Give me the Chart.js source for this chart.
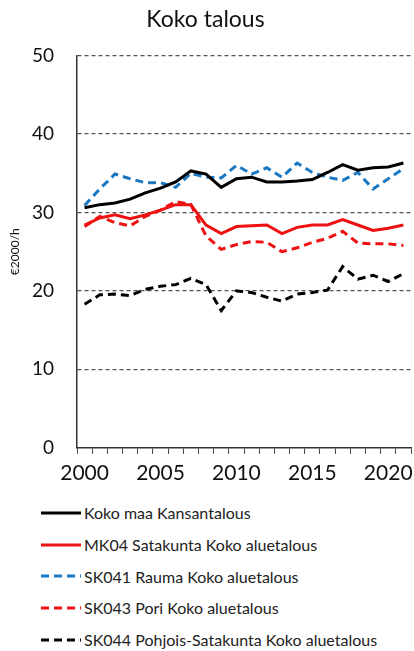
<!DOCTYPE html>
<html lang="fi">
  <head>
    <meta charset="UTF-8" />
    <title>Koko talous</title>
    <script src="https://cdn.jsdelivr.net/npm/chart.js@4.4.0/dist/chart.umd.min.js"></script>
    <style>
      body { margin: 0; background: #fff; font-family: Lato, sans-serif; }
      .wrap { position: relative; width: 414px; height: 494px; }
      #legend { position: absolute; left: 0; top: 497px; width: 414px; }
      .row { display: flex; align-items: center; height: 31.7px; color: #222; font-size: 16px; }
      .row svg { margin-left: 41px; margin-right: 3px; }
    </style>
  </head>
  <body>
    <div class="wrap"><canvas id="chart"></canvas></div>
    <div id="legend"></div>
    <script>
      // Years 2000-2021
      const years = [];
      for (let y = 2000; y <= 2021; y++) years.push(String(y));

      const kokoMaa = [30.6, 31.0, 31.2, 31.7, 32.5, 33.1, 33.9, 35.3, 34.9, 33.2, 34.3, 34.5, 33.9, 33.9, 34.0, 34.2, 35.1, 36.1, 35.4, 35.7, 35.8, 36.3];
      const satakunta = [28.4, 29.3, 29.7, 29.2, 29.7, 30.3, 31.0, 31.0, 28.4, 27.3, 28.2, 28.3, 28.4, 27.3, 28.1, 28.4, 28.4, 29.1, 28.4, 27.7, 28.0, 28.4];
      const rauma = [30.9, 33.0, 34.9, 34.3, 33.8, 33.8, 33.2, 35.0, 34.5, 34.4, 36.0, 34.9, 35.7, 34.5, 36.3, 35.1, 34.5, 34.1, 35.1, 33.0, 34.3, 35.6];
      const pori = [28.2, 29.5, 28.7, 28.3, 29.5, 30.3, 31.4, 31.0, 27.0, 25.3, 25.9, 26.3, 26.2, 25.0, 25.5, 26.2, 26.7, 27.6, 26.1, 26.0, 26.0, 25.8];
      const pohjoisSatakunta = [18.3, 19.5, 19.6, 19.4, 20.2, 20.6, 20.8, 21.6, 20.8, 17.5, 20.0, 19.8, 19.2, 18.7, 19.6, 19.8, 20.1, 23.1, 21.5, 22.0, 21.2, 22.2];

      const seriesNames = [
        "Koko maa Kansantalous",
        "MK04 Satakunta Koko aluetalous",
        "SK041 Rauma Koko aluetalous",
        "SK043 Pori Koko aluetalous",
        "SK044 Pohjois-Satakunta Koko aluetalous",
      ];
      const seriesData = [kokoMaa, satakunta, rauma, pori, pohjoisSatakunta];
      const seriesColors = ["#000000", "#ee1111", "#1a78c2", "#ee1111", "#000000"];
      const seriesDashed = [false, false, true, true, true];

      const datasets = seriesNames.map((name, i) => ({
        label: name,
        data: seriesData[i],
        borderColor: seriesColors[i],
        backgroundColor: seriesColors[i],
        borderWidth: 3,
        borderDash: seriesDashed[i] ? [8, 5] : [],
        pointRadius: 0,
        tension: 0,
        fill: false,
      }));

      new Chart(document.getElementById("chart"), {
        type: "line",
        data: { labels: years, datasets: datasets },
        options: {
          responsive: true,
          maintainAspectRatio: false,
          animation: false,
          layout: { padding: { left: 0, right: 3, top: 0, bottom: 1 } },
          plugins: {
            legend: { display: false },
            tooltip: { enabled: false },
            title: {
              display: true,
              text: "Koko talous",
              color: "#111",
              font: { family: "Lato", size: 23, weight: "normal" },
              padding: { top: 6, bottom: 22 },
            },
          },
          scales: {
            x: {
              type: "category",
              offset: true,
              grid: {
                display: true,
                drawOnChartArea: false,
                drawTicks: true,
                tickLength: 6,
                color: "#444",
                lineWidth: 1,
                offset: true,
              },
              border: { display: true, color: "#333", width: 1.5 },
              ticks: {
                autoSkip: false,
                maxRotation: 0,
                color: "#111",
                font: { family: "Lato", size: 21 },
                padding: 7,
                callback: function (value, index) {
                  const lab = this.getLabelForValue(value);
                  return index % 5 === 0 ? lab : "";
                },
              },
            },
            y: {
              min: 0,
              max: 50,
              afterFit: (scale) => { scale.width = 77; },
              grid: {
                drawTicks: false,
                color: (ctx) => (ctx.tick && ctx.tick.value === 0 ? "rgba(0,0,0,0)" : "#555"),
                lineWidth: 1.2,
              },
              border: { display: true, color: "#333", width: 1.5, dash: [4, 3] },
              ticks: {
                stepSize: 10,
                color: "#111",
                font: { family: "Lato", size: 19 },
                padding: 23,
              },
              title: {
                display: true,
                text: "€2000/h",
                color: "#111",
                font: { family: "Lato", size: 12 },
                padding: { top: 8, bottom: 4 },
              },
            },
          },
        },
      });

      // Legend drawn below the chart, one series per row
      const legend = document.getElementById("legend");
      seriesNames.forEach((name, i) => {
        const row = document.createElement("div");
        row.className = "row";
        const dash = seriesDashed[i] ? ' stroke-dasharray="8 5"' : "";
        row.innerHTML =
          '<svg width="40" height="6"><line x1="0" y1="3" x2="40" y2="3" stroke="' +
          seriesColors[i] + '" stroke-width="3"' + dash + "/></svg><span>" + name + "</span>";
        legend.appendChild(row);
      });
    </script>
  </body>
</html>
